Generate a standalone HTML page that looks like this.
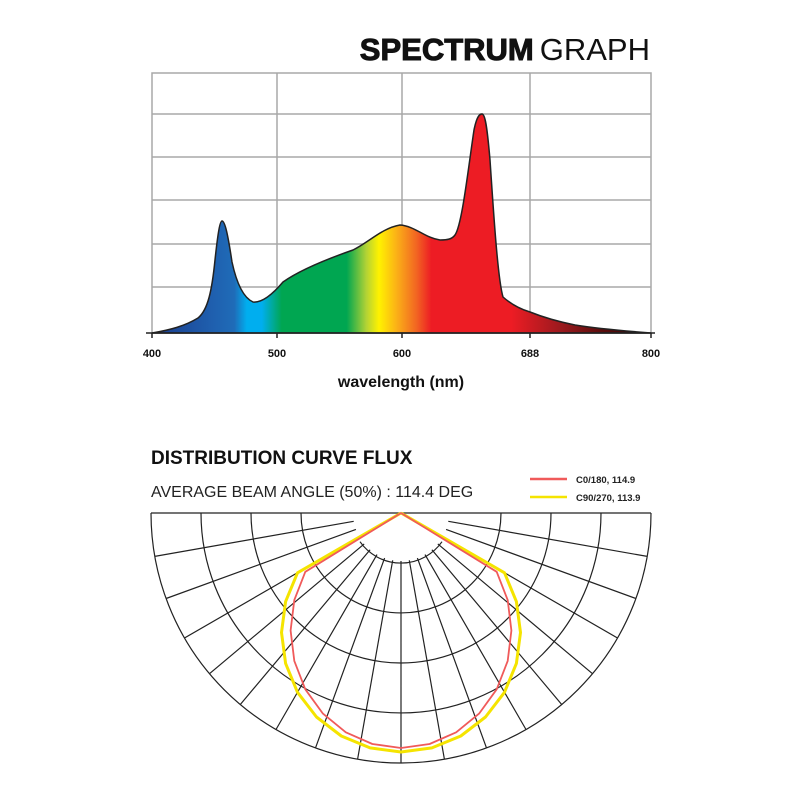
<!DOCTYPE html>
<html><head><meta charset="utf-8"><style>
html,body{margin:0;padding:0;background:#fff;width:800px;height:800px;overflow:hidden}
svg{display:block;font-family:"Liberation Sans",sans-serif}
</style></head><body>
<svg id="s" width="800" height="800" viewBox="0 0 800 800">
<defs>
<linearGradient id="sp" gradientUnits="userSpaceOnUse" x1="152" y1="0" x2="651" y2="0">
<stop offset="0" stop-color="#1a3c8c"/>
<stop offset="0.12" stop-color="#1f5fae"/>
<stop offset="0.165" stop-color="#1f6cb8"/>
<stop offset="0.19" stop-color="#00aeef"/>
<stop offset="0.22" stop-color="#00aeef"/>
<stop offset="0.26" stop-color="#00a651"/>
<stop offset="0.39" stop-color="#00a651"/>
<stop offset="0.43" stop-color="#b5d334"/>
<stop offset="0.455" stop-color="#fff200"/>
<stop offset="0.49" stop-color="#fbb117"/>
<stop offset="0.53" stop-color="#f26522"/>
<stop offset="0.56" stop-color="#ed1c24"/>
<stop offset="0.72" stop-color="#ed1c24"/>
<stop offset="0.82" stop-color="#9b1a1e"/>
<stop offset="0.9" stop-color="#5c0d0d"/>
<stop offset="1" stop-color="#2a0505"/>
</linearGradient>
</defs>
<text x="650" y="60" text-anchor="end" font-size="31" fill="#111"><tspan font-weight="bold" stroke="#111" stroke-width="1">SPECTRUM</tspan><tspan dx="6">GRAPH</tspan></text>
<g stroke="#a8a8a8" stroke-width="1.5" fill="none">
<rect x="152" y="73" width="499" height="260"/>
<path d="M152 114H651M152 157H651M152 200H651M152 244H651M152 287H651M277 73V333M402 73V333M530 73V333"/>
</g>
<path fill="url(#sp)" stroke="#222" stroke-width="1.5" d="M152 333 C170 330 185 326 198 318 C208 310 212 290 215 260 C218 232 220 221 222 221 C225 221 228 235 232 262 C237 285 244 298 253 302 C262 303 272 295 283 282 C300 270 330 258 353 250 C368 243 382 228 400 225 C415 226 425 238 440 240 C448 240 452 239 455 235 C462 225 468 170 474 130 C477 115 480 114 482 114 C485 114 487 125 490 160 C494 220 498 280 503 297 C512 305 520 309 530 312 C545 318 560 322 575 325 C600 329 625 331 651 333 Z"/>
<path d="M146 333H655" stroke="#222" stroke-width="1.5"/>
<g stroke="#222" stroke-width="1.5"><path d="M152 333v5M277 333v5M402 333v5M530 333v5M651 333v5"/></g>
<g font-size="11" font-weight="bold" text-anchor="middle" fill="#111">
<text x="152" y="357">400</text><text x="277" y="357">500</text><text x="402" y="357">600</text><text x="530" y="357">688</text><text x="651" y="357">800</text>
</g>
<text x="401" y="387" text-anchor="middle" font-size="16" font-weight="bold" fill="#111">wavelength (nm)</text>
<text x="151" y="464" font-size="19" font-weight="bold" fill="#111">DISTRIBUTION CURVE FLUX</text>
<text x="151" y="497" font-size="16" fill="#222">AVERAGE BEAM ANGLE  (50%) : 114.4 DEG</text>
<path d="M530 479H567" stroke="#f05a5a" stroke-width="2.5"/>
<path d="M530 497H567" stroke="#f5e400" stroke-width="2.5"/>
<text x="576" y="483" font-size="9.5" font-weight="bold" fill="#222">C0/180, 114.9</text>
<text x="576" y="501" font-size="9.5" font-weight="bold" fill="#222">C90/270, 113.9</text>
<g id="pg" stroke="#222" stroke-width="1.2" fill="none"></g>
<g id="pc" fill="none"></g>
</svg>
<script>
var cx=401,cy=513,ns="http://www.w3.org/2000/svg";
var pg=document.getElementById('pg'),pc=document.getElementById('pc');
var d="M151 513H651";
[100,150,200,250].forEach(function(r){d+="M"+(cx-r)+" "+cy+"A"+r+" "+r+" 0 0 0 "+(cx+r)+" "+cy;});
var ia=55*Math.PI/180;
d+="M"+(cx-50*Math.sin(ia)).toFixed(1)+" "+(cy+50*Math.cos(ia)).toFixed(1)+"A50 50 0 0 0 "+(cx+50*Math.sin(ia)).toFixed(1)+" "+(cy+50*Math.cos(ia)).toFixed(1);
for(var a=10;a<=170;a+=10){var t=a*Math.PI/180,c=Math.cos(t),s=Math.sin(t);
d+="M"+(cx+48*c).toFixed(1)+" "+(cy+48*s).toFixed(1)+"L"+(cx+250*c).toFixed(1)+" "+(cy+250*s).toFixed(1);}
var p=document.createElementNS(ns,'path');p.setAttribute('d',d);pg.appendChild(p);
function curve(D,sx,col,w,lim){var pts=[[cx,cy]];
for(var th=-lim;th<=lim+0.01;th+=7.5){var t=th*Math.PI/180,r=D*Math.cos(t);
pts.push([cx+sx*r*Math.sin(t),cy+r*Math.cos(t)]);}
pts.push([cx,cy]);
var q=document.createElementNS(ns,'path');
q.setAttribute('d',"M"+pts.map(function(p){return p[0].toFixed(1)+" "+p[1].toFixed(1)}).join("L"));
q.setAttribute('stroke',col);q.setAttribute('stroke-width',w);q.setAttribute('stroke-linejoin','round');pc.appendChild(q);}
curve(239,1.0,"#f5e400",3,60);
curve(235,0.94,"#f05a5a",1.8,60);
</script>
</body></html>
